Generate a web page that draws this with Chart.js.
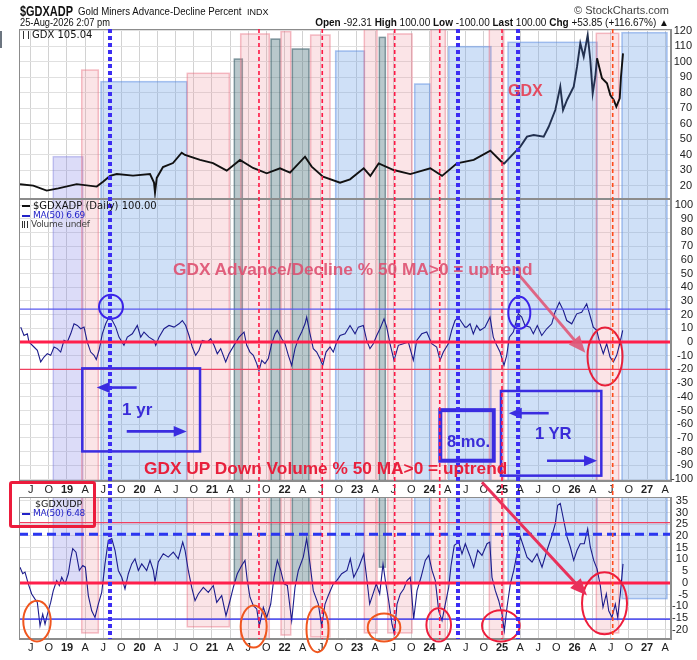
<!DOCTYPE html>
<html>
<head>
<meta charset="utf-8">
<script src="https://cdn.jsdelivr.net/npm/chart.js@4/dist/chart.umd.min.js"></script>
<style>
  body { margin: 0; background: #fff; }
  #wrap { position: relative; width: 697px; height: 660px; overflow: hidden; font-family: "Liberation Sans", Arial, sans-serif; color: #111; }
  canvas { position: absolute; left: 0; top: 0; }
  .t { position: absolute; white-space: nowrap; line-height: 1; transform-origin: 0 50%; }
  .lg { font-family: "DejaVu Sans", sans-serif; }
  .dash { display: inline-block; width: 8px; height: 2px; vertical-align: middle; margin-right: 3px; }
  .ico { display: inline-block; width: 6px; height: 8px; margin-right: 3px; vertical-align: -1px;
         background: linear-gradient(90deg, #333 0 1px, transparent 1px 2.5px, #333 2.5px 3.5px, transparent 3.5px 5px, #333 5px 6px); }
  .note { font-weight: bold; }
</style>
</head>
<body>
<div id="wrap">
  <canvas id="cTop" width="697" height="660"></canvas>
  <canvas id="cAd" width="697" height="660"></canvas>
  <canvas id="cUd" width="697" height="660"></canvas>

  <div style="position:absolute;left:0;top:31px;width:2px;height:17px;background:#6c7580"></div>

  <div class="t" style="left:20px;top:3px;font-size:15px;font-weight:bold;transform:scaleX(0.73)">$GDXADP</div>
  <div class="t" style="left:78px;top:6px;font-size:11px;transform:scaleX(0.88)">Gold Miners Advance-Decline Percent</div>
  <div class="t" style="left:247px;top:8px;font-size:9px">INDX</div>
  <div class="t" style="right:28px;top:5px;font-size:11px;color:#444">© StockCharts.com</div>
  <div class="t" style="left:20px;top:18px;font-size:10px;transform:scaleX(0.93)">25-Aug-2026 2:07 pm</div>
  <div class="t" style="right:28px;top:18px;font-size:10px"><b>Open</b> -92.31 <b>High</b> 100.00 <b>Low</b> -100.00 <b>Last</b> 100.00 <b>Chg</b> +53.85 (+116.67%) ▲</div>

  <div class="t lg" style="left:23px;top:30px;font-size:10px"><i class="ico"></i>GDX 105.04</div>

  <div class="t lg" style="left:22px;top:201px;font-size:10px"><i class="dash" style="background:#111"></i>$GDXADP (Daily) 100.00</div>
  <div class="t lg" style="left:22px;top:211px;font-size:9px;color:#2323c8;letter-spacing:-0.3px"><i class="dash" style="background:#2323c8"></i>MA(50) 6.69</div>
  <div class="t lg" style="left:22px;top:220px;font-size:9px;color:#444;letter-spacing:-0.3px"><i class="ico" style="height:7px"></i>Volume undef</div>

  <div class="t lg" style="left:35px;top:499px;font-size:9.5px">$GDXUDP</div>
  <div class="t lg" style="left:22px;top:509px;font-size:9px;color:#2323c8;letter-spacing:-0.3px"><i class="dash" style="background:#2323c8"></i>MA(50) 6.48</div>
  <div style="position:absolute;left:9px;top:481px;width:87px;height:47px;border:3px solid #ec1c3c;border-radius:3px;box-sizing:border-box"></div>

  <div class="t note" style="left:508px;top:83px;font-size:16px;color:rgba(232,50,70,0.85)">GDX</div>
  <div class="t note" style="left:173px;top:261px;font-size:17.3px;color:rgba(222,80,112,0.9)">GDX Advance/Decline % 50 MA&gt;0 = uptrend</div>
  <div class="t note" style="left:144px;top:460px;font-size:17.3px;color:#e8203c">GDX UP Down Volume % 50 MA&gt;0 = uptrend</div>
  <div class="t note" style="left:122px;top:401px;font-size:17px;color:#3a2cd8">1 yr</div>
  <div class="t note" style="left:447px;top:433px;font-size:16.5px;color:#3a2cd8">8 mo.</div>
  <div class="t note" style="left:535px;top:426px;font-size:16.6px;color:#3a2cd8">1 YR</div>
</div>

<script>
// quarterly ticks shared by all three panels
const xTicks = [2018.5, 2018.75, 2019, 2019.25, 2019.5, 2019.75, 2020, 2020.25, 2020.5, 2020.75,
  2021, 2021.25, 2021.5, 2021.75, 2022, 2022.25, 2022.5, 2022.75, 2023, 2023.25, 2023.5, 2023.75,
  2024, 2024.25, 2024.5, 2024.75, 2025, 2025.25, 2025.5, 2025.75, 2026, 2026.25, 2026.5, 2026.75,
  2027, 2027.25];
const xTickLabels = ['J', 'O', '19', 'A', 'J', 'O', '20', 'A', 'J', 'O', '21', 'A', 'J', 'O', '22', 'A', 'J', 'O',
  '23', 'A', 'J', 'O', '24', 'A', 'J', 'O', '25', 'A', 'J', 'O', '26', 'A', 'J', 'O', '27', 'A'];
const topTicks = [20, 30, 40, 50, 60, 70, 80, 90, 100, 110, 120];
const adTicks = [-100, -90, -80, -70, -60, -50, -40, -30, -20, -10, 0, 10, 20, 30, 40, 50, 60, 70, 80, 90, 100];
const udTicks = [-20, -15, -10, -5, 0, 5, 10, 15, 20, 25, 30, 35];

// GDX price (decimal year, close)
const gdxDates = [2018.352, 2018.535, 2018.720, 2018.880, 2019.134, 2019.410, 2019.497, 2019.593, 2019.686, 2019.910,
  2020.145, 2020.200, 2020.214, 2020.238, 2020.324, 2020.462, 2020.582, 2020.628, 2020.835, 2021.014,
  2021.203, 2021.386, 2021.566, 2021.755, 2021.938, 2022.076, 2022.283, 2022.375, 2022.531, 2022.766,
  2022.904, 2023.093, 2023.184, 2023.299, 2023.506, 2023.735, 2024.011, 2024.173, 2024.379, 2024.610,
  2024.839, 2025.024, 2025.162, 2025.253, 2025.345, 2025.437, 2025.575, 2025.644, 2025.735, 2025.804,
  2025.842, 2025.897, 2025.989, 2026.035, 2026.080, 2026.127, 2026.182, 2026.218, 2026.251, 2026.287,
  2026.311, 2026.379, 2026.448, 2026.494, 2026.541, 2026.577, 2026.624, 2026.641, 2026.669];
const gdxClose = [20.9, 20, 16.8, 18.3, 21, 19.4, 22.6, 26.3, 27.5, 26.5,
  27.5, 22, 15.5, 25, 32, 34.6, 41.3, 39.8, 36.6, 34.6,
  29.7, 36.6, 31.4, 28, 31.2, 28.4, 38.7, 32.3, 25.8, 21.9,
  24.1, 31.2, 26.3, 34.4, 30.1, 27.5, 31.2, 26.3, 34.4, 36.6,
  42.6, 34, 40.9, 45.2, 51.6, 52.7, 51.6, 58, 68.8, 83.9,
  68.8, 75.3, 83.9, 96.8, 111.9, 103.2, 117.2, 101.1, 79.6, 90.3,
  102.2, 89.3, 86.1, 78.5, 75.3, 71, 76.4, 90.3, 105.4];

// $GDXADP 50-day MA
const adDates = [2018.362, 2018.407, 2018.453, 2018.476, 2018.545, 2018.591, 2018.637, 2018.683, 2018.728, 2018.775,
  2018.821, 2018.866, 2018.913, 2018.959, 2019.004, 2019.051, 2019.097, 2019.142, 2019.189, 2019.235,
  2019.280, 2019.327, 2019.373, 2019.404, 2019.442, 2019.487, 2019.534, 2019.579, 2019.625, 2019.672,
  2019.717, 2019.786, 2019.832, 2019.901, 2019.970, 2020.017, 2020.062, 2020.131, 2020.200, 2020.224,
  2020.269, 2020.338, 2020.407, 2020.476, 2020.545, 2020.591, 2020.637, 2020.683, 2020.728, 2020.775,
  2020.821, 2020.866, 2020.935, 2020.982, 2021.028, 2021.073, 2021.120, 2021.189, 2021.235, 2021.304,
  2021.373, 2021.442, 2021.479, 2021.524, 2021.570, 2021.617, 2021.648, 2021.686, 2021.731, 2021.777,
  2021.824, 2021.869, 2021.901, 2021.962, 2022.007, 2022.053, 2022.099, 2022.145, 2022.191, 2022.237,
  2022.283, 2022.306, 2022.352, 2022.397, 2022.444, 2022.490, 2022.527, 2022.573, 2022.628, 2022.673,
  2022.720, 2022.766, 2022.835, 2022.904, 2022.973, 2023.018, 2023.087, 2023.134, 2023.179, 2023.225,
  2023.272, 2023.317, 2023.373, 2023.410, 2023.455, 2023.511, 2023.570, 2023.639, 2023.708, 2023.777,
  2023.824, 2023.893, 2023.962, 2024.031, 2024.099, 2024.145, 2024.191, 2024.259, 2024.306, 2024.352,
  2024.397, 2024.444, 2024.490, 2024.513, 2024.559, 2024.604, 2024.651, 2024.697, 2024.766, 2024.835,
  2024.880, 2024.927, 2024.973, 2025.028, 2025.065, 2025.101, 2025.156, 2025.225, 2025.272, 2025.317,
  2025.386, 2025.432, 2025.487, 2025.548, 2025.617, 2025.686, 2025.731, 2025.791, 2025.846, 2025.893,
  2025.962, 2026.031, 2026.099, 2026.168, 2026.214, 2026.259, 2026.306, 2026.352, 2026.397, 2026.444,
  2026.490, 2026.536, 2026.582, 2026.618, 2026.665];
const adMa = [10.9, 4.8, 6, 0, -3.6, -6, -14.5, -10.9, -8.5, -9.7,
  -3.6, -4.8, -7.3, 1.2, 0, 6, 13.3, 12.1, 9.7, 10.9,
  0, -7.3, -9.7, -12.8, -6, 6, 13.3, 18.2, 15.7, 10.9,
  3.6, -2.4, 3.6, 6, 12.1, 3.6, 7.3, 3.6, 1.2, -2.4,
  3.6, 9.7, 12.1, 10.9, 13.3, 15.7, 12.1, 4.8, -3.6, -9.7,
  -6, 1.2, 0, 2.4, -2.4, -8.5, -4.8, -14.5, -8.5, -2.4,
  3.6, 7.3, -2.4, -7.3, -9.7, -15.7, -21, -13.3, -15.7, -12.1,
  -1.2, 6, 8.5, 2.4, -1.2, -9.7, -17, -4.8, 2.4, 7.3,
  13.3, 18.2, 6, -4.8, -7.3, -12.1, -17, -7.3, -3.6, -7.3,
  0, 4.8, 6, 12.1, 6, 10.9, 12.1, 1.2, -4.8, -1.2,
  4.8, 9.7, 17, 10.9, -1.2, -13.3, -2.4, -1.2, 0, -13.3,
  1.2, 6, 7.3, -1.2, -3.6, -13.3, -7.3, -1.2, 8.5, 15.7,
  18.2, 14.5, 10.9, 10.9, 13.3, 6, 12.1, 8.5, 10.9, 18.2,
  3.6, -2.4, -7.3, -17, -9.7, 3.6, 7.3, 20.6, 18.2, 12.1,
  10.9, 6, 12.1, 4.8, 9.7, 13.3, 21.8, 29, 23, 15.7,
  13.3, 20.6, 21.8, 27.8, 19.4, 10.9, 8.5, -1.2, -8.5, -1.2,
  -10.9, -14.5, -9.7, -2.4, 8.5];

// $GDXUDP 50-day MA
const udDates = [2018.352, 2018.389, 2018.421, 2018.466, 2018.513, 2018.559, 2018.591, 2018.628, 2018.665, 2018.697,
  2018.742, 2018.775, 2018.811, 2018.858, 2018.894, 2018.927, 2018.973, 2019.018, 2019.051, 2019.079,
  2019.124, 2019.170, 2019.217, 2019.253, 2019.294, 2019.341, 2019.386, 2019.432, 2019.479, 2019.524,
  2019.570, 2019.617, 2019.662, 2019.708, 2019.755, 2019.800, 2019.846, 2019.893, 2019.938, 2019.984,
  2020.031, 2020.099, 2020.145, 2020.191, 2020.214, 2020.259, 2020.328, 2020.397, 2020.466, 2020.535,
  2020.596, 2020.628, 2020.673, 2020.720, 2020.766, 2020.811, 2020.880, 2020.949, 2021.018, 2021.065,
  2021.134, 2021.193, 2021.248, 2021.294, 2021.349, 2021.410, 2021.455, 2021.487, 2021.524, 2021.570,
  2021.617, 2021.653, 2021.708, 2021.755, 2021.810, 2021.855, 2021.901, 2021.948, 2021.993, 2022.039,
  2022.099, 2022.145, 2022.191, 2022.259, 2022.306, 2022.352, 2022.397, 2022.466, 2022.513, 2022.559,
  2022.604, 2022.673, 2022.720, 2022.789, 2022.862, 2022.908, 2022.955, 2023.024, 2023.093, 2023.138,
  2023.175, 2023.221, 2023.266, 2023.313, 2023.359, 2023.391, 2023.437, 2023.483, 2023.515, 2023.552,
  2023.597, 2023.644, 2023.690, 2023.735, 2023.782, 2023.828, 2023.883, 2023.942, 2023.989, 2024.035,
  2024.080, 2024.127, 2024.173, 2024.218, 2024.265, 2024.297, 2024.342, 2024.403, 2024.448, 2024.494,
  2024.555, 2024.610, 2024.665, 2024.724, 2024.793, 2024.831, 2024.862, 2024.908, 2024.955, 2025.000,
  2025.032, 2025.069, 2025.115, 2025.162, 2025.207, 2025.253, 2025.299, 2025.345, 2025.414, 2025.483,
  2025.552, 2025.621, 2025.690, 2025.735, 2025.768, 2025.804, 2025.851, 2025.897, 2025.942, 2025.989,
  2026.035, 2026.080, 2026.135, 2026.182, 2026.218, 2026.265, 2026.311, 2026.356, 2026.393, 2026.439,
  2026.472, 2026.517, 2026.563, 2026.596, 2026.632, 2026.669];
const udMa = [6.7, 3.9, 4.6, -0.4, -4.7, -6.9, -8.3, -18.3, -13.3, -17.6,
  -11.9, -8.3, -3.3, 1, -1.1, 2.4, -0.4, 3.9, 10.3, 14.6,
  13.1, 5.3, 7.4, 6.7, -5.4, -11.9, -14.7, -9, -4, 8.1,
  18.1, 18.9, 13.9, 5.3, 2.4, -2.6, 3.9, 8.1, 10.3, 5.3,
  8.1, 5.3, 9.6, 5.3, 0.3, 8.9, 12.4, 11, 13.1, 10.3,
  17.4, 13.9, 5.3, -1.9, -7.6, -4.7, -1.9, -4, -1.1, -8.3,
  -5.4, -14, -7.6, -1.9, 3.9, 7.4, 9.6, 1, -6.1, -9.7,
  -11.1, -18.3, -10.4, -14.7, -9, 2.4, 9.6, 5.3, -0.4, -1.1,
  -16.1, -1.9, 5.3, 11, 18.9, 8.1, -3.3, -9, -18.3, -9,
  -5.4, -0.4, 1, 3.9, 5.3, 10.3, 2.4, 6.7, 12.4, 1,
  -9, -4.7, -0.4, -4.7, 8.1, 1, -7.6, -17.6, -21.6, -9,
  -4.7, -2.6, 1, 2.4, -15.4, -3.3, 2.4, 9.6, 11.7, 5.3,
  1, -11.9, -16.1, -9, -1.9, 7.4, 16, 17.4, 12.4, 16.7,
  11.7, 6.7, 13.9, 11.7, 16.7, 17.4, 2.4, -3.3, -7.6, -13.3,
  -20.4, -10.4, -0.4, 5.3, 12.4, 19.6, 15.3, 11, 8.9, 12.4,
  6.7, 13.9, 20.3, 25.3, 33.1, 33.9, 26.7, 19.6, 15.3, 9.6,
  13.9, 16.7, 16.7, 23.1, 15.3, 9.6, 6, -1.1, -10.4, -4.7,
  -11.9, -14.7, -9, -14.7, -4.7, 8.1];

// hand-drawn highlight zones (top in GDX units, udEnd = lower edge in the UDP panel)
const zones = [
  { kind: 'lav',  from: 2018.811, to: 2019.217, top: 38.7,  udEnd: 0 },
  { kind: 'pink', from: 2019.203, to: 2019.432, top: 94.6,  udEnd: -21.3 },
  { kind: 'blue', from: 2019.469, to: 2020.651, top: 87.1,  udEnd: 0 },
  { kind: 'pink', from: 2020.659, to: 2021.239, top: 92.5,  udEnd: -18.7 },
  { kind: 'teal', from: 2021.308, to: 2021.418, top: 101.7, udEnd: 0 },
  { kind: 'pink', from: 2021.396, to: 2021.790, top: 117.9, udEnd: -24 },
  { kind: 'teal', from: 2021.814, to: 2021.938, top: 114.6, udEnd: 0 },
  { kind: 'pink', from: 2021.952, to: 2022.086, top: 119.4, udEnd: -22.2 },
  { kind: 'teal', from: 2022.108, to: 2022.338, top: 108.2, udEnd: 0 },
  { kind: 'pink', from: 2022.361, to: 2022.628, top: 117.2, udEnd: -23 },
  { kind: 'blue', from: 2022.706, to: 2023.101, top: 106.9, udEnd: 0 },
  { kind: 'pink', from: 2023.101, to: 2023.276, top: 120.9, udEnd: -21.3 },
  { kind: 'teal', from: 2023.308, to: 2023.391, top: 115.7, udEnd: 6.7 },
  { kind: 'pink', from: 2023.424, to: 2023.759, top: 117.9, udEnd: -21.3 },
  { kind: 'blue', from: 2023.796, to: 2024.003, top: 85.6,  udEnd: 0 },
  { kind: 'pink', from: 2024.021, to: 2024.218, top: 121,   udEnd: -24 },
  { kind: 'blue', from: 2024.265, to: 2024.848, top: 109.7, udEnd: 0 },
  { kind: 'pink', from: 2024.825, to: 2025.024, top: 121,   udEnd: -24 },
  { kind: 'blue', from: 2025.083, to: 2026.311, top: 112.5, udEnd: 0 },
  { kind: 'pink', from: 2026.301, to: 2026.610, top: 118.3, udEnd: -21.3 },
  { kind: 'blue', from: 2026.655, to: 2027.276, top: 118.7, udEnd: -6.7 }
];
const zoneStyle = {
  pink: ['rgba(236,130,145,0.22)', 'rgba(232,110,128,0.45)'],
  blue: ['rgba(110,160,230,0.33)', 'rgba(90,140,225,0.5)'],
  teal: ['rgba(70,110,120,0.38)', 'rgba(60,95,105,0.6)'],
  lav:  ['rgba(130,130,230,0.28)', 'rgba(120,120,220,0.4)']
};

const blueMarks = [2019.593, 2024.393, 2025.221];
const redMarks = [2021.648, 2022.521, 2023.520, 2024.141, 2025.000];
const lastMark = 2026.527;

const adLines = [
  { v: 24, color: '#5a5af0', w: 1.2 },
  { v: 0, color: '#ff1f4b', w: 3 },
  { v: -20, color: '#f04060', w: 1.2 }
];
const udLines = [
  { v: 25.7, color: '#f04060', w: 1.2 },
  { v: 20.7, color: '#2a36f0', w: 3, dash: [9, 5] },
  { v: 0, color: '#ff1f4b', w: 3 },
  { v: -15.4, color: '#2020f0', w: 1.2 }
];
const adRings = [
  { t: 2019.607, v: 25.7, rx: 12, ry: 12, color: '#3a22e8' },
  { t: 2025.239, v: 21.3, rx: 11, ry: 16, color: '#3a22e8' },
  { t: 2026.421, v: -10.5, rx: 17.5, ry: 29, color: '#e8203a' }
];
const adBoxes = [
  { t1: 2019.211, t2: 2020.835, v1: -19.2, v2: -79.8, w: 2.5 },
  { t1: 2024.149, t2: 2024.886, v1: -49.7, v2: -86.6, w: 4 },
  { t1: 2024.986, t2: 2026.370, v1: -35.7, v2: -97.5, w: 2.5 }
];
const adArrows = [
  { t1: 2019.961, t2: 2019.410, v: -33.2 },
  { t1: 2019.824, t2: 2020.651, v: -65.2 },
  { t1: 2025.644, t2: 2025.093, v: -51.9 },
  { t1: 2025.621, t2: 2026.311, v: -86.6 }
];
const udRings = [
  { t: 2018.586, v: -16.3, rx: 13.7, ry: 20.3, color: '#f0561e' },
  { t: 2021.575, v: -18.6, rx: 13, ry: 21, color: '#f0561e' },
  { t: 2022.455, v: -19.7, rx: 11, ry: 23, color: '#f0561e' },
  { t: 2023.373, v: -19, rx: 16.3, ry: 14, color: '#f0561e' },
  { t: 2024.127, v: -17.9, rx: 12.3, ry: 16.7, color: '#ee1d3c' },
  { t: 2024.984, v: -18.3, rx: 18.8, ry: 15.7, color: '#ee1d3c' },
  { t: 2026.414, v: -8.7, rx: 22.5, ry: 31, color: '#ee1d3c' }
];

Chart.defaults.font.family = '"Liberation Sans", Arial, sans-serif';
Chart.defaults.font.size = 11;
Chart.defaults.color = '#222';

function clipArea(ctx, a) {
  ctx.save();
  ctx.beginPath();
  ctx.rect(a.left, a.top, a.right - a.left, a.bottom - a.top);
  ctx.clip();
}

function shadeZone(ctx, kind, x1, y1, x2, y2) {
  const s = zoneStyle[kind];
  ctx.fillStyle = s[0];
  ctx.fillRect(x1, y1, x2 - x1, y2 - y1);
  ctx.strokeStyle = s[1];
  ctx.lineWidth = 1.5;
  ctx.strokeRect(x1, y1, x2 - x1, y2 - y1);
}

function frame(chart) {
  const { ctx, chartArea: a } = chart;
  ctx.save();
  ctx.strokeStyle = '#8c8c8c';
  ctx.lineWidth = 1;
  ctx.strokeRect(a.left + 0.5, a.top + 0.5, a.right - a.left - 1, a.bottom - a.top - 1);
  ctx.restore();
}

function hLines(chart, lines) {
  const { ctx, chartArea: a, scales: { y } } = chart;
  ctx.save();
  lines.forEach(l => {
    const py = y.getPixelForValue(l.v);
    ctx.strokeStyle = l.color;
    ctx.lineWidth = l.w;
    ctx.setLineDash(l.dash || []);
    ctx.beginPath();
    ctx.moveTo(a.left, py);
    ctx.lineTo(a.right, py);
    ctx.stroke();
  });
  ctx.restore();
}

function ring(ctx, x, y, rx, ry, color) {
  ctx.save();
  ctx.strokeStyle = color;
  ctx.lineWidth = 2;
  ctx.beginPath();
  ctx.ellipse(x, y, rx, ry, 0, 0, Math.PI * 2);
  ctx.stroke();
  ctx.restore();
}

function arrow(ctx, x1, y1, x2, y2, color, w, head) {
  const a = Math.atan2(y2 - y1, x2 - x1);
  const c = Math.cos(a), s = Math.sin(a);
  ctx.save();
  ctx.strokeStyle = color;
  ctx.fillStyle = color;
  ctx.lineWidth = w;
  ctx.beginPath();
  ctx.moveTo(x1, y1);
  ctx.lineTo(x2 - c * head * 0.8, y2 - s * head * 0.8);
  ctx.stroke();
  ctx.beginPath();
  ctx.moveTo(x2, y2);
  ctx.lineTo(x2 - head * c + head * 0.42 * s, y2 - head * s - head * 0.42 * c);
  ctx.lineTo(x2 - head * c - head * 0.42 * s, y2 - head * s + head * 0.42 * c);
  ctx.closePath();
  ctx.fill();
  ctx.restore();
}

function xAxis(showLabels) {
  return {
    type: 'linear',
    min: 2018.338,
    max: 2027.331,
    afterBuildTicks: s => { s.ticks = xTicks.map(v => ({ value: v })); },
    afterFit: s => { s.height = showLabels ? 16 : 0; },
    grid: { color: '#d2d2d2', drawTicks: false },
    border: { color: '#8c8c8c' },
    ticks: {
      display: showLabels,
      autoSkip: false,
      maxRotation: 0,
      padding: 2,
      color: '#222',
      callback: (v, i) => xTickLabels[i],
      font: c => ({ size: 11, weight: (xTickLabels[c.index] || '').length === 2 ? 'bold' : 'normal' })
    }
  };
}

// labels are right-aligned at the outer edge of the axis box; width + right padding place that edge
function yAxis(min, max, ticks, width) {
  return {
    type: 'linear',
    position: 'right',
    min: min,
    max: max,
    afterBuildTicks: s => { s.ticks = ticks.map(v => ({ value: v })); },
    afterFit: s => { s.width = width; },
    grid: { color: '#e0e0e0', drawTicks: false },
    border: { color: '#8c8c8c' },
    ticks: { crossAlign: 'far', autoSkip: false, color: '#222', callback: v => String(v) }
  };
}

function panel(id, dates, vals, line, pad, showX, y, plugin) {
  return new Chart(document.getElementById(id), {
    type: 'line',
    data: {
      datasets: [Object.assign({
        data: dates.map((d, i) => ({ x: d, y: vals[i] })),
        pointRadius: 0,
        tension: 0
      }, line)]
    },
    options: {
      responsive: false,
      animation: false,
      layout: { padding: pad },
      scales: { x: xAxis(showX), y: y },
      plugins: { legend: { display: false }, tooltip: { enabled: false } }
    },
    plugins: [plugin]
  });
}

const topChart = panel('cTop', gdxDates, gdxClose, {
  borderWidth: 1.9,
  borderColor: '#111',
  segment: { borderColor: c => (c.p0.parsed.x >= 2024.85 && c.p0.parsed.x < 2026.3) ? '#22304f' : '#111' }
}, { left: 19, right: 5, top: 29, bottom: 461 }, false, yAxis(11.4, 121.1, topTicks, 21), {
  id: 'topExtras',
  beforeDatasetsDraw(chart) {
    const { ctx, chartArea: a, scales: { x, y } } = chart;
    clipArea(ctx, a);
    zones.forEach(z => shadeZone(ctx, z.kind, x.getPixelForValue(z.from), y.getPixelForValue(z.top),
      x.getPixelForValue(z.to), a.bottom + 2));
    ctx.restore();
  },
  afterDraw(chart) { frame(chart); }
});

const adChart = panel('cAd', adDates, adMa, {
  borderWidth: 1.1,
  borderColor: '#1c1c8c'
}, { left: 19, right: 4, top: 199, bottom: 163 }, true, yAxis(-101.4, 104.4, adTicks, 22), {
  id: 'adExtras',
  beforeDatasetsDraw(chart) {
    const { ctx, chartArea: a, scales: { x } } = chart;
    clipArea(ctx, a);
    zones.forEach(z => shadeZone(ctx, z.kind, x.getPixelForValue(z.from), a.top - 2,
      x.getPixelForValue(z.to), a.bottom + 2));
    ctx.restore();
  },
  afterDatasetsDraw(chart) {
    const { ctx, scales: { x, y } } = chart;
    hLines(chart, adLines);
    adRings.forEach(r => ring(ctx, x.getPixelForValue(r.t), y.getPixelForValue(r.v), r.rx, r.ry, r.color));
    ctx.save();
    ctx.strokeStyle = '#3a2ce0';
    adBoxes.forEach(b => {
      ctx.lineWidth = b.w;
      const x1 = x.getPixelForValue(b.t1), x2 = x.getPixelForValue(b.t2);
      const y1 = y.getPixelForValue(b.v1), y2 = y.getPixelForValue(b.v2);
      ctx.strokeRect(x1, y1, x2 - x1, y2 - y1);
    });
    ctx.restore();
    adArrows.forEach(r => {
      const py = y.getPixelForValue(r.v);
      arrow(ctx, x.getPixelForValue(r.t1), py, x.getPixelForValue(r.t2), py, '#3a2ce0', 2.6, 13);
    });
    arrow(ctx, x.getPixelForValue(2025.230), y.getPixelForValue(49.2),
      x.getPixelForValue(2026.149), y.getPixelForValue(-7.8), 'rgba(224,88,120,0.9)', 3, 17);
  },
  afterDraw(chart) { frame(chart); }
});

const udChart = panel('cUd', udDates, udMa, {
  borderWidth: 1.1,
  borderColor: '#1c1c8c'
}, { left: 19, right: 9, top: 497, bottom: 5 }, true, yAxis(-23.9, 36.6, udTicks, 17), {
  id: 'udExtras',
  beforeDatasetsDraw(chart) {
    const { ctx, chartArea: a, scales: { x, y } } = chart;
    clipArea(ctx, a);
    zones.forEach(z => shadeZone(ctx, z.kind, x.getPixelForValue(z.from), a.top - 2,
      x.getPixelForValue(z.to), y.getPixelForValue(z.udEnd)));
    ctx.restore();
  },
  afterDatasetsDraw(chart) { hLines(chart, udLines); },
  afterDraw(chart) {
    const { ctx, chartArea: a, scales: { x, y } } = chart;
    frame(chart);
    udRings.forEach(r => ring(ctx, x.getPixelForValue(r.t), y.getPixelForValue(r.v), r.rx, r.ry, r.color));
    const top = topChart.chartArea.top;
    ctx.save();
    ctx.lineWidth = 4;
    ctx.setLineDash([4, 3]);
    ctx.strokeStyle = '#3b2cf2';
    blueMarks.forEach(t => {
      const px = x.getPixelForValue(t);
      ctx.beginPath(); ctx.moveTo(px, top); ctx.lineTo(px, a.bottom); ctx.stroke();
    });
    ctx.lineWidth = 1.6;
    ctx.setLineDash([4, 3]);
    ctx.strokeStyle = '#ff1744';
    redMarks.forEach(t => {
      const px = x.getPixelForValue(t);
      ctx.beginPath(); ctx.moveTo(px, top); ctx.lineTo(px, a.bottom); ctx.stroke();
    });
    ctx.strokeStyle = '#ff4a1a';
    const lx = x.getPixelForValue(lastMark);
    ctx.beginPath(); ctx.moveTo(lx, top); ctx.lineTo(lx, a.bottom); ctx.stroke();
    ctx.restore();
    // arrow from the volume caption down to the latest dip
    arrow(ctx, x.getPixelForValue(2024.724), adChart.scales.y.getPixelForValue(-102.3),
      x.getPixelForValue(2026.172), y.getPixelForValue(-5.4), '#e8305a', 3, 17);
  }
});
</script>
</body>
</html>
